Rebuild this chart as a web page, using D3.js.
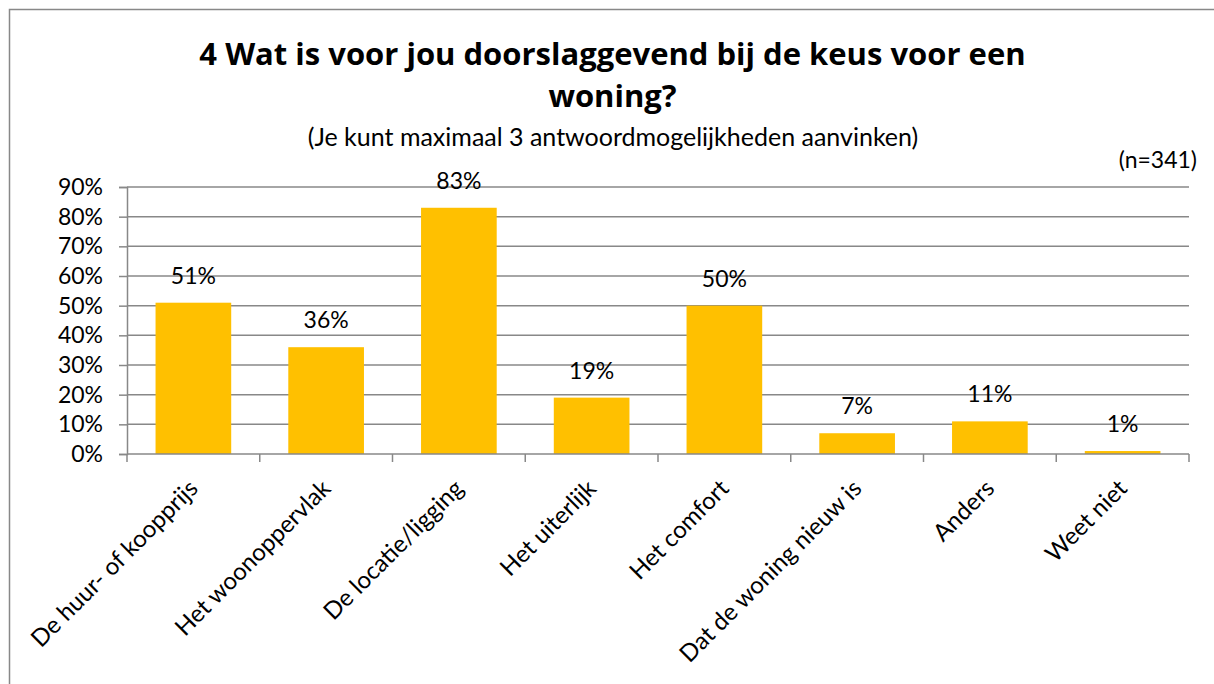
<!DOCTYPE html>
<html>
<head>
<meta charset="utf-8">
<script src="https://cdn.jsdelivr.net/npm/d3@7"></script>
<style>
  html, body { margin: 0; padding: 0; background: #fff; }
  svg { display: block; }
  text { font-family: Lato, "Open Sans", sans-serif; fill: #000; }
</style>
</head>
<body>
<script>
// ---- data ----
const categories = [
  "De huur- of koopprijs",
  "Het woonoppervlak",
  "De locatie/ligging",
  "Het uiterlijk",
  "Het comfort",
  "Dat de woning nieuw is",
  "Anders",
  "Weet niet"
];
const values = [51, 36, 83, 19, 50, 7, 11, 1];
const yTicks = [0, 10, 20, 30, 40, 50, 60, 70, 80, 90];
const titleLines = ["4 Wat is voor jou doorslaggevend bij de keus voor een", "woning?"];
const subtitle = "(Je kunt maximaal 3 antwoordmogelijkheden aanvinken)";
const nLabel = "(n=341)";

// ---- layout ----
const W = 1214, H = 684;
const plot = { left: 127, right: 1189, top: 187, bottom: 454 };
const gridColor = "#888888";
const barColor = "#FFC000";
const fontSize = 23;

const svg = d3.select("body").append("svg").attr("width", W).attr("height", H);

// outer frame
svg.append("rect")
  .attr("x", 9.5).attr("y", 9.5)
  .attr("width", 1300).attr("height", 1000)
  .attr("fill", "#fff").attr("stroke", gridColor).attr("stroke-width", 1.5);

// title
const titleStyle = sel => sel
  .attr("text-anchor", "middle")
  .style("font-family", "'Open Sans', Lato, sans-serif")
  .style("font-weight", "bold").style("font-size", "31px");
svg.append("text").attr("x", 612.5).attr("y", 65).call(titleStyle).text(titleLines[0]);
svg.append("text").attr("x", 612.5).attr("y", 107).call(titleStyle).text(titleLines[1]);

svg.append("text")
  .attr("x", 613).attr("y", 146)
  .attr("text-anchor", "middle")
  .style("font-size", "25px")
  .text(subtitle);
svg.append("text")
  .attr("x", 1197).attr("y", 168)
  .attr("text-anchor", "end")
  .style("font-size", fontSize + "px")
  .text(nLabel);

// scales
const x = d3.scaleBand()
  .domain(categories)
  .range([plot.left, plot.right])
  .paddingInner(0.43)
  .paddingOuter(0.215);
const y = d3.scaleLinear().domain([0, 90]).range([plot.bottom, plot.top]);

// gridlines
svg.append("g")
  .selectAll("line")
  .data(yTicks.filter(d => d > 0))
  .join("line")
  .attr("x1", plot.left).attr("x2", plot.right)
  .attr("y1", d => y(d)).attr("y2", d => y(d))
  .attr("stroke", gridColor).attr("stroke-width", 1.5);

// y axis
const yAxis = svg.append("g")
  .attr("transform", `translate(${plot.left},0)`)
  .call(d3.axisLeft(y).tickValues(yTicks).tickFormat(d => d + "%").tickSize(8).tickPadding(16));
yAxis.select(".domain").attr("stroke", gridColor).attr("stroke-width", 1.5);
yAxis.selectAll(".tick line").attr("stroke", gridColor).attr("stroke-width", 1.5);
yAxis.selectAll(".tick text")
  .style("font-size", fontSize + "px")
  .style("font-family", "Lato, 'Open Sans', sans-serif")
  .attr("fill", "#000");

// bars
svg.append("g")
  .selectAll("rect")
  .data(values)
  .join("rect")
  .attr("x", (d, i) => x(categories[i]))
  .attr("width", x.bandwidth())
  .attr("y", d => y(d))
  .attr("height", d => y(0) - y(d))
  .attr("fill", barColor);

// x axis line + ticks at slot boundaries
svg.append("line")
  .attr("x1", plot.left).attr("x2", plot.right)
  .attr("y1", y(0)).attr("y2", y(0))
  .attr("stroke", gridColor).attr("stroke-width", 1.5);
svg.append("g")
  .selectAll("line")
  .data(d3.range(categories.length + 1))
  .join("line")
  .attr("x1", i => plot.left + i * x.step())
  .attr("x2", i => plot.left + i * x.step())
  .attr("y1", y(0)).attr("y2", y(0) + 8)
  .attr("stroke", gridColor).attr("stroke-width", 1.5);

// data labels
svg.append("g")
  .selectAll("text")
  .data(values)
  .join("text")
  .attr("x", (d, i) => x(categories[i]) + x.bandwidth() / 2)
  .attr("y", d => y(d) - 19)
  .attr("text-anchor", "middle")
  .style("font-size", fontSize + "px")
  .text(d => d + "%");

// category labels (rotated)
svg.append("g")
  .selectAll("text")
  .data(categories)
  .join("text")
  .attr("transform", d => `translate(${x(d) + x.bandwidth() / 2 + 6},${y(0) + 36}) rotate(-45)`)
  .attr("text-anchor", "end")
  .style("font-size", "24px")
  .text(d => d);
</script>
</body>
</html>
